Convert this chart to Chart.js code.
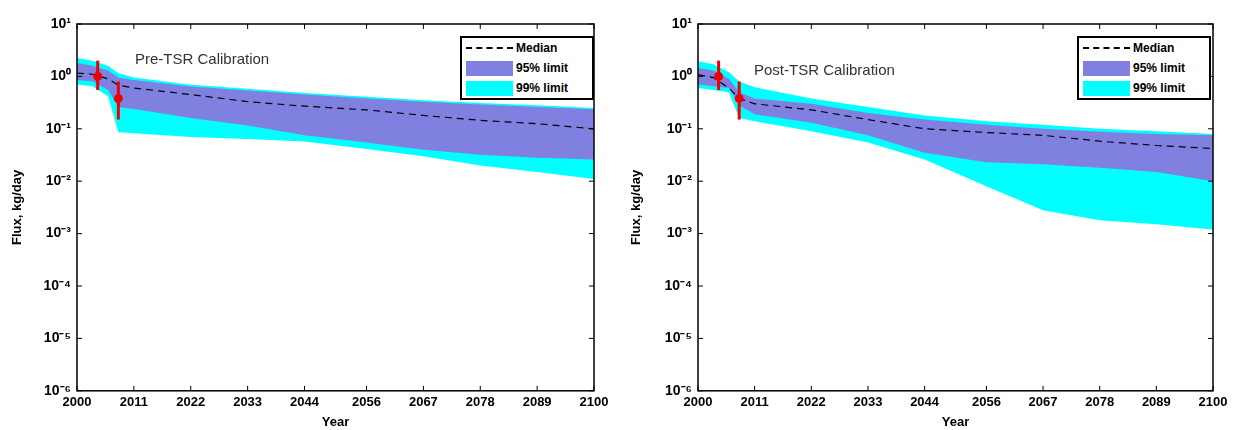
<!DOCTYPE html>
<html>
<head>
<meta charset="utf-8">
<script src="https://cdn.jsdelivr.net/npm/chart.js@4/dist/chart.umd.min.js"></script>
<style>
  body { margin: 0; background: #fff; font-family: "Liberation Sans", Arial, sans-serif; }
  .panel { position: absolute; top: 0; width: 619px; height: 430px; }
  .title { position: absolute; font-size: 15px; color: #333; }
  .legend { position: absolute; border: 2px solid #000; background: #fff; font-size: 12px; font-weight: bold; width: 130px; }
  .legend div { height: 20px; display: flex; align-items: center; }
  .sw { width: 47px; height: 15px; margin: 0 3px 0 4px; }
</style>
</head>
<body>
<div class="panel" style="left:0"><canvas id="chart1"></canvas>
  <div class="title" style="left:135px;top:50px">Pre-TSR Calibration</div>
  <div class="legend" style="left:460px;top:36px">
    <div><span class="sw" style="height:0;border-top:2px dashed #000"></span>Median</div>
    <div><span class="sw" style="background:#8080e0"></span>95% limit</div>
    <div><span class="sw" style="background:#00ffff"></span>99% limit</div>
  </div>
</div>
<div class="panel" style="left:619px"><canvas id="chart2"></canvas>
  <div class="title" style="left:135px;top:61px">Post-TSR Calibration</div>
  <div class="legend" style="left:458px;top:36px">
    <div><span class="sw" style="height:0;border-top:2px dashed #000"></span>Median</div>
    <div><span class="sw" style="background:#8080e0"></span>95% limit</div>
    <div><span class="sw" style="background:#00ffff"></span>99% limit</div>
  </div>
</div>
<script>
const years = [2000, 2003, 2006, 2008, 2011, 2022, 2033, 2044, 2056, 2067, 2078, 2089, 2100];

// pre-TSR
const preUp99 = [2.25, 2.0, 1.6, 1.15, 0.95, 0.69, 0.58, 0.48, 0.41, 0.35, 0.31, 0.28, 0.25];
const preUp95 = [1.8, 1.6, 1.3, 0.95, 0.85, 0.64, 0.54, 0.45, 0.38, 0.33, 0.29, 0.26, 0.235];
const preMedian = [1.16, 1.1, 0.9, 0.68, 0.6, 0.45, 0.33, 0.27, 0.23, 0.18, 0.145, 0.125, 0.1];
const preLow95 = [0.85, 0.8, 0.55, 0.26, 0.24, 0.16, 0.115, 0.075, 0.055, 0.04, 0.032, 0.028, 0.026];
const preLow99 = [0.7, 0.65, 0.42, 0.086, 0.082, 0.07, 0.064, 0.057, 0.041, 0.03, 0.02, 0.015, 0.011];

// post-TSR
const postUp99 = [1.95, 1.7, 1.2, 0.8, 0.62, 0.38, 0.26, 0.18, 0.14, 0.12, 0.1, 0.09, 0.08];
const postUp95 = [1.45, 1.3, 0.9, 0.5, 0.38, 0.3, 0.2, 0.15, 0.12, 0.1, 0.088, 0.08, 0.075];
const postMedian = [1.08, 0.95, 0.6, 0.38, 0.3, 0.23, 0.15, 0.1, 0.085, 0.075, 0.058, 0.048, 0.042];
const postLow95 = [0.7, 0.65, 0.6, 0.28, 0.19, 0.13, 0.075, 0.035, 0.023, 0.021, 0.018, 0.015, 0.01];
const postLow99 = [0.6, 0.55, 0.5, 0.16, 0.14, 0.09, 0.055, 0.026, 0.008, 0.0028, 0.0018, 0.0015, 0.0012];

const obsYears = [2004, 2008];
const preObs = [1.0, 0.38];
const preObsLow = [0.55, 0.15];
const preObsHigh = [2.0, 0.8];
const postObs = [1.0, 0.38];
const postObsLow = [0.55, 0.15];
const postObsHigh = [2.0, 0.8];

const xTicks = [2000, 2011, 2022, 2033, 2044, 2056, 2067, 2078, 2089, 2100];
const yTicks = [1e-6, 1e-5, 1e-4, 1e-3, 1e-2, 1e-1, 1, 10];
const yTickLabels = ["10⁻⁶", "10⁻⁵", "10⁻⁴", "10⁻³", "10⁻²", "10⁻¹", "10⁰", "10¹"];

const pts = (arr) => arr.map((v, i) => ({ x: years[i], y: v }));

const boxPlugin = {
  id: "box",
  afterDatasetsDraw(chart, args, opts) {
    const { ctx, chartArea: a, scales } = chart;
    ctx.save();
    ctx.strokeStyle = "#000";
    ctx.lineWidth = 1.5;
    ctx.strokeRect(a.left, a.top, a.right - a.left, a.bottom - a.top);
    // small inward ticks
    ctx.lineWidth = 1;
    ctx.beginPath();
    xTicks.forEach((v) => {
      const x = scales.x.getPixelForValue(v);
      ctx.moveTo(x, a.bottom); ctx.lineTo(x, a.bottom - 5);
      ctx.moveTo(x, a.top); ctx.lineTo(x, a.top + 5);
    });
    yTicks.forEach((v) => {
      const y = scales.y.getPixelForValue(v);
      ctx.moveTo(a.left, y); ctx.lineTo(a.left + 5, y);
      ctx.moveTo(a.right, y); ctx.lineTo(a.right - 5, y);
    });
    ctx.stroke();
    ctx.strokeStyle = "#e00";
    ctx.lineWidth = 3;
    opts.low.forEach((lo, i) => {
      const x = scales.x.getPixelForValue(obsYears[i]);
      ctx.beginPath();
      ctx.moveTo(x, scales.y.getPixelForValue(lo));
      ctx.lineTo(x, scales.y.getPixelForValue(opts.high[i]));
      ctx.stroke();
    });
    ctx.restore();
  }
};

function makeChart(id, up99, up95, med, low95, low99, obs, obsLow, obsHigh, leftW) {
  new Chart(document.getElementById(id), {
    type: "line",
    data: {
      datasets: [
        { data: pts(up99), order: 5, borderWidth: 0, pointRadius: 0, fill: false },
        { data: pts(low99), order: 4, borderWidth: 0, pointRadius: 0, fill: "-1", backgroundColor: "#00ffff" },
        { data: pts(up95), order: 3, borderWidth: 0, pointRadius: 0, fill: false },
        { data: pts(low95), order: 2, borderWidth: 0, pointRadius: 0, fill: "-1", backgroundColor: "#8080e0" },
        { data: pts(med), order: 1, borderColor: "#000", borderWidth: 1.2, borderDash: [7, 5], pointRadius: 0, fill: false },
        { data: obsYears.map((y, i) => ({ x: y, y: obs[i] })), order: 0, showLine: false, pointRadius: 4, pointBackgroundColor: "#e00", pointBorderColor: "#e00" }
      ]
    },
    options: {
      responsive: true,
      maintainAspectRatio: false,
      animation: false,
      layout: { padding: { top: 24, right: 25, left: 10 } },
      plugins: { legend: { display: false }, tooltip: { enabled: false }, box: { low: obsLow, high: obsHigh } },
      scales: {
        x: {
          type: "linear", min: 2000, max: 2100,
          afterBuildTicks: (s) => { s.ticks = xTicks.map((v) => ({ value: v })); },
          grid: { display: false, drawTicks: false },
          border: { display: false },
          ticks: { color: "#000", font: { family: "Liberation Sans", size: 13, weight: "bold" }, padding: 4, maxRotation: 0,
                   callback: (v) => String(Math.round(v)) },
          title: { display: true, text: "Year", color: "#000", font: { family: "Liberation Sans", size: 13, weight: "bold" }, padding: 0 }
        },
        y: {
          type: "logarithmic", min: 1e-6, max: 10,
          afterFit: (s) => { s.width = leftW - 10; },
          afterBuildTicks: (s) => { s.ticks = yTicks.map((v) => ({ value: v })); },
          grid: { display: false, drawTicks: false },
          border: { display: false },
          ticks: { color: "#000", font: { family: "Liberation Sans", size: 14, weight: "bold" }, padding: 6,
                   callback: (v, i) => yTickLabels[i] },
          title: { display: true, text: "Flux, kg/day", color: "#000", font: { family: "Liberation Sans", size: 13, weight: "bold" }, padding: 0 }
        }
      }
    },
    plugins: [boxPlugin]
  });
}

makeChart("chart1", preUp99, preUp95, preMedian, preLow95, preLow99, preObs, preObsLow, preObsHigh, 77);
makeChart("chart2", postUp99, postUp95, postMedian, postLow95, postLow99, postObs, postObsLow, postObsHigh, 79);
</script>
</body>
</html>
